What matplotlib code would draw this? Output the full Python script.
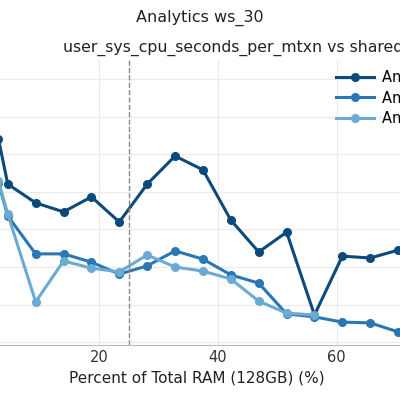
import matplotlib.pyplot as plt
import numpy as np

# shared_buffers in GB, shown as percent of 128GB
buffers_gb = [4, 6, 12, 18, 24, 30, 36, 42, 48, 54, 60, 66, 72, 78, 84, 90]
run_a = [5.41, 4.21, 3.71, 3.47, 3.87, 3.20, 4.21, 4.96, 4.59, 3.25, 2.40, 2.93, 0.72, 2.29, 2.24, 2.45]
run_b = [4.24, 3.36, 2.35, 2.35, 2.13, 1.81, 2.03, 2.43, 2.21, 1.79, 1.57, 0.75, 0.67, 0.53, 0.51, 0.27]
run_c = [4.29, 3.41, 1.07, 2.16, 1.97, 1.87, 2.32, 2.00, 1.89, 1.68, 1.09, 0.77, 0.72]
labels = ['Analytics ws_30 run 1', 'Analytics ws_30 run 2', 'Analytics ws_30 run 3']
colors = ['#0d4a7c', '#2a77b4', '#6aaad3']

pct = np.array(buffers_gb) / 128 * 100

fig = plt.figure(figsize=(4, 4), dpi=100)
ax = fig.add_axes([-0.08, 0.1375, 1.145, 0.7125])
for vals, lab, c in zip([run_a, run_b, run_c], labels, colors):
    ax.plot(pct[:len(vals)], vals, '-o', color=c, lw=2.2, ms=5.5, label=lab)

ax.axvline(25, color='#888888', ls='--', lw=1)
ax.set_xlim(-2, 75)
ax.set_ylim(-0.08, 7.52)
ax.set_xticks([0, 20, 40, 60])
ax.set_yticks(range(0, 8))
ax.set_yticklabels([])
ax.grid(color='#eaeaea', lw=0.8)
ax.tick_params(length=0, labelsize=10.5, colors='#333333')
for s in ['top', 'right', 'left']:
    ax.spines[s].set_visible(False)
ax.spines['bottom'].set_color('#bbbbbb')
ax.set_xlabel('Percent of Total RAM (128GB) (%)', fontsize=11, color='#222222')

fig.suptitle('Analytics ws_30', x=0.5, y=0.975, fontsize=11.5, color='#222222')
fig.text(63 / 400, 1 - 48 / 400, 'user_sys_cpu_seconds_per_mtxn vs shared_buffers',
         ha='left', va='center', fontsize=11.3, color='#222222')
ax.legend(loc='upper left', bbox_to_anchor=(330 / 400, 1 - 64 / 400),
          bbox_transform=fig.transFigure, frameon=False, fontsize=10.5,
          handlelength=2.6, handletextpad=0.6, labelspacing=0.3, borderaxespad=0)
fig.savefig('out.png', dpi=100)
